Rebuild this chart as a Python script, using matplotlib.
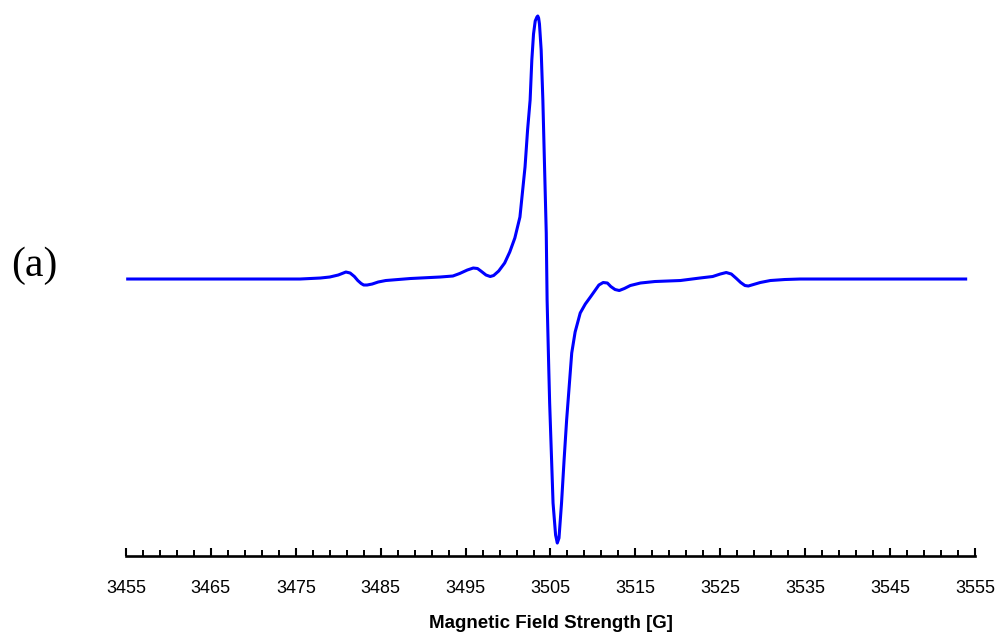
import numpy as np
import matplotlib.pyplot as plt

# EPR spectrum, first derivative (arbitrary units)
field = [3455.2, 3475.5, 3477.9, 3479.0, 3480.0, 3480.6, 3480.9, 3481.4, 3481.9,
         3482.3, 3482.7, 3483.0, 3483.4, 3484.0, 3484.7, 3485.6, 3488.5, 3492.0,
         3493.5, 3494.3, 3495.2, 3495.9, 3496.4, 3496.8, 3497.4, 3497.9, 3498.3,
         3498.9, 3499.6, 3500.2, 3500.8, 3501.4, 3502.0, 3502.3, 3502.6, 3502.8,
         3503.0, 3503.2, 3503.4, 3503.5, 3503.6, 3503.7, 3503.9, 3504.1, 3504.3,
         3504.5, 3504.6, 3504.8, 3504.9, 3505.3, 3505.6, 3505.8, 3506.0, 3506.3,
         3506.6, 3506.9, 3507.5, 3507.9, 3508.5, 3509.1, 3509.7, 3510.2, 3510.7,
         3511.2, 3511.7, 3512.1, 3512.6, 3513.1, 3513.7, 3514.4, 3515.6, 3517.3,
         3520.3, 3522.6, 3524.1, 3525.0, 3525.7, 3526.3, 3526.9, 3527.4, 3527.9,
         3528.3, 3528.9, 3529.7, 3530.9, 3532.6, 3534.4, 3553.9]
signal = [0, 0, 1, 2, 4, 6, 7, 6, 2.5,
          -1.5, -4.5, -6, -6, -5, -3, -1.5, 0.5, 2,
          3, 5.5, 9, 11, 10.5, 8, 4, 2.5, 3.5,
          8, 16, 27, 41, 62, 112, 149, 179, 219,
          245, 258, 262, 263, 261, 255, 229, 179, 112,
          46, -21, -91, -124, -224, -256, -264, -259, -224,
          -181, -141, -74, -53, -34, -25, -18, -12, -6,
          -3.5, -4, -7.5, -10.5, -11.5, -9.5, -6.5, -4, -2.5,
          -1.5, 1, 2.5, 5, 6.5, 5, 0.5, -3.5, -6.5,
          -7, -5.5, -3.5, -1.5, -0.5, 0, 0]

major_ticks = np.arange(3455, 3556, 10)
minor_ticks = np.arange(3457, 3555, 2)

fig = plt.figure(figsize=(10, 6.33), dpi=100)
ax = fig.add_axes([0.126, 0.1216, 0.849, 0.8626])

ax.plot(field, signal, color='#0000ff', lw=2.2, solid_joinstyle='round')

ax.set_xlim(3455, 3555)
ax.set_ylim(-277, 269)
ax.set_xticks(major_ticks)
ax.set_xticks(minor_ticks, minor=True)
ax.tick_params(axis='x', which='major', direction='in', length=6, width=1.5,
               labelsize=13, pad=17)
ax.tick_params(axis='x', which='minor', direction='in', length=4, width=1.4)
for lbl in ax.get_xticklabels():
    lbl.set_fontfamily('Liberation Sans')
ax.set_yticks([])
for side in ['top', 'left', 'right']:
    ax.spines[side].set_visible(False)
ax.spines['bottom'].set_linewidth(1.9)

ax.set_xlabel('Magnetic Field Strength [G]', fontsize=13.5, fontweight='bold',
              family='Liberation Sans', labelpad=13)

fig.text(0.034, 0.58, '(a)', fontsize=30, family='Liberation Serif',
         ha='center', va='center')

fig.savefig('out.png', dpi=100)
